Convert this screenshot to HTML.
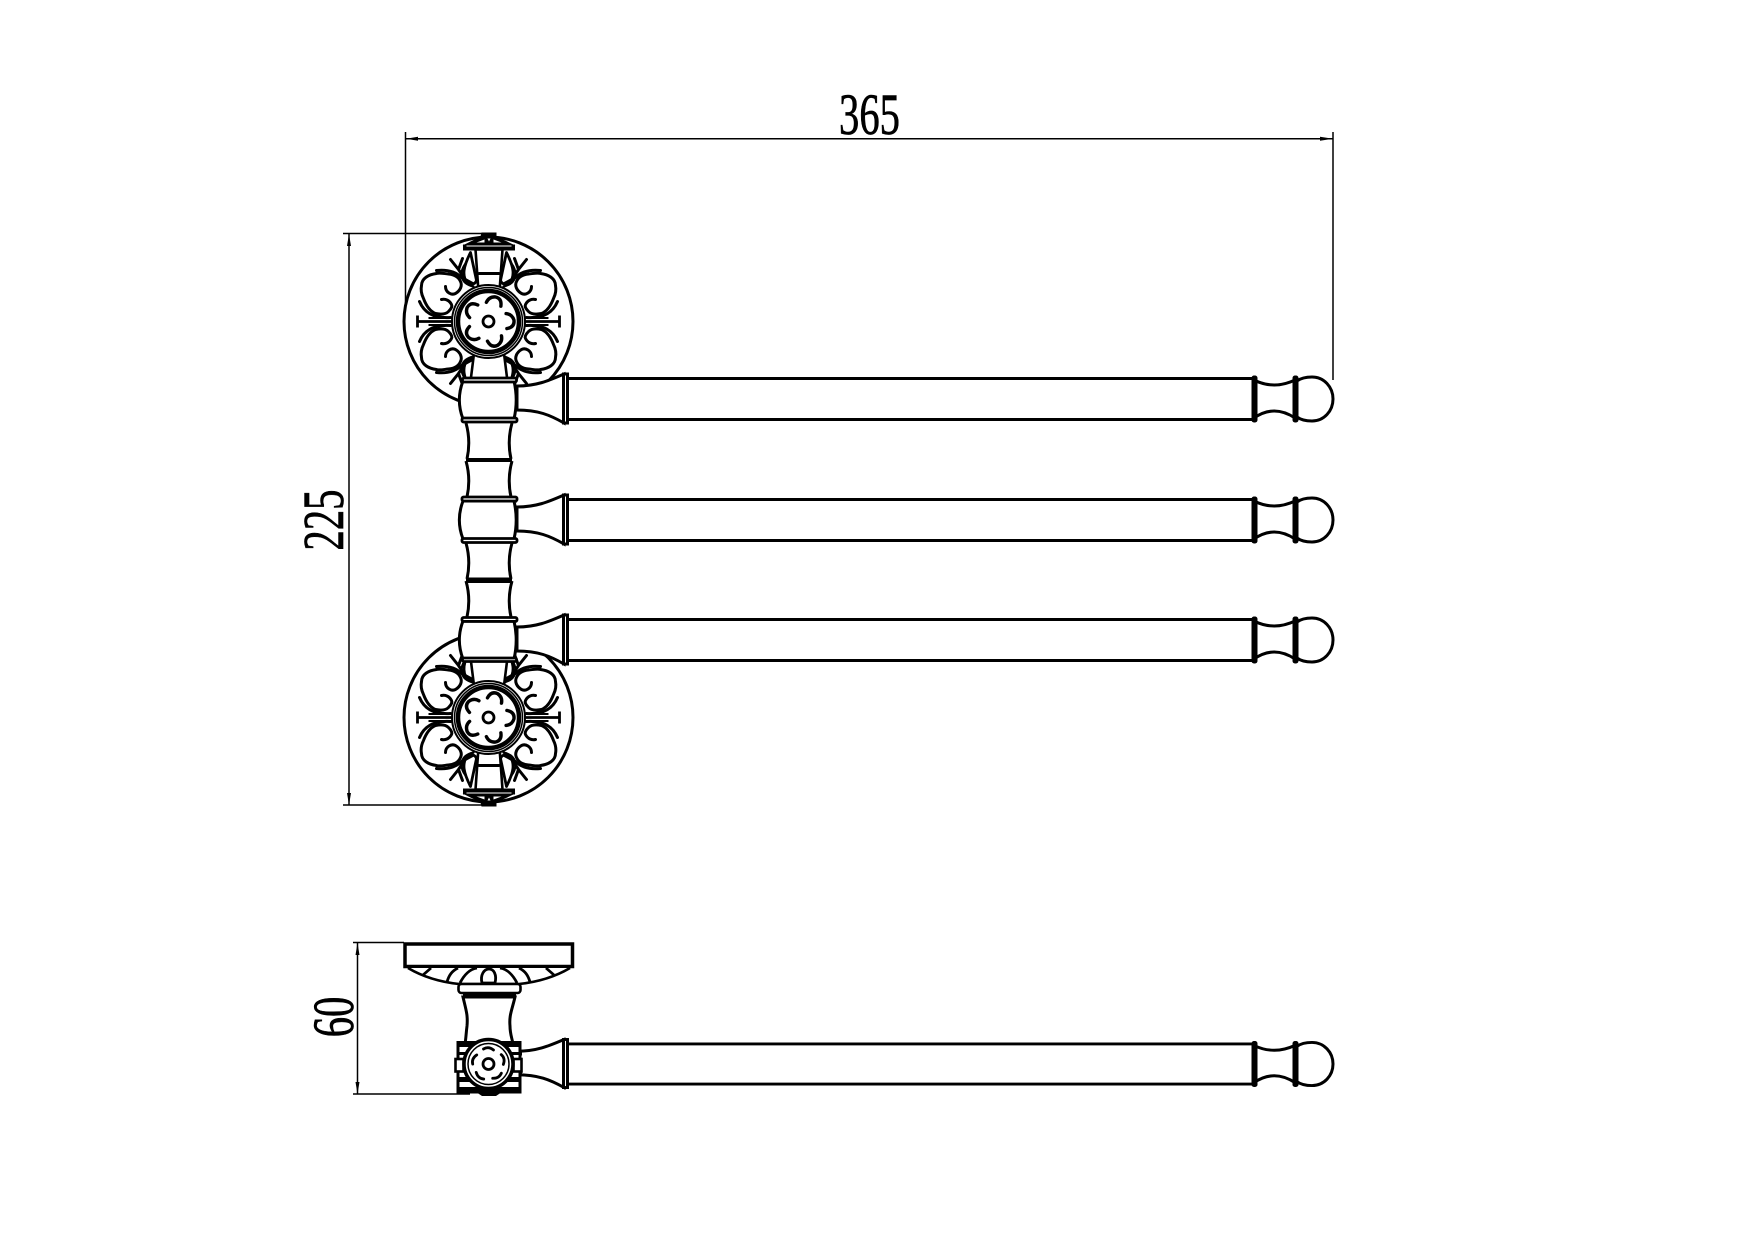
<!DOCTYPE html>
<html>
<head>
<meta charset="utf-8">
<style>
html,body{margin:0;padding:0;background:#fff;width:1754px;height:1240px;overflow:hidden}
svg{display:block}
text{font-family:"Liberation Serif",serif;font-size:58px;fill:#000;text-anchor:middle}
</style>
</head>
<body>
<svg width="1754" height="1240" viewBox="0 0 1754 1240" xmlns="http://www.w3.org/2000/svg" fill="none" stroke="#000" stroke-width="3">
<defs>
  <g id="quarter" stroke-width="3" stroke-linecap="round" stroke-linejoin="round">
    <path d="M-43,-35 C-43,-29 -37,-26 -33,-28 C-28,-31 -26,-36 -28,-40 C-30,-45 -35,-47 -40,-47.500 C-45,-48 -49,-49 -52,-48 C-60,-47 -67,-43 -67,-36 C-68,-31 -67,-27 -65,-23 C-62,-15 -58,-10 -53,-8 C-48,-7 -43,-7 -40,-10 C-37,-13 -36,-15 -37,-17 C-39,-21 -43,-23 -47,-22"/>
    <path d="M-52,-51 C-42,-52 -33,-50 -27,-44 L-16,-38"/>
    <path d="M-69,-20 C-64,-8 -54,-3 -38,-4"/>
    <path d="M-38,-62 L-30,-52 L-26,-63 M-30,-52 L-24,-43"/>
    <path d="M-18,-69 C-25,-55 -27,-46 -21,-38 C-16,-36 -13,-38 -12,-41 L-18,-69 Z" stroke-width="2.800"/>
    <path d="M-23,-58 C-30,-48 -28,-38 -15,-35" stroke-width="2.200"/>
  </g>
  <g id="center">
    <circle r="36.500" stroke-width="2" fill="#fff"/>
    <circle r="34" stroke-width="1.500"/>
    <circle r="30.500" stroke-width="4.500"/>
    <circle r="5.500" stroke-width="2.800"/>
    <g stroke-width="3.400" stroke-linecap="round" stroke-linejoin="round">
      <path id="petal" d="M-7,-18 Q-6,-24 0,-25.500 Q7,-26 8,-18" transform="rotate(15)"/>
      <use href="#petal" transform="rotate(72)"/>
      <use href="#petal" transform="rotate(144)"/>
      <use href="#petal" transform="rotate(216)"/>
      <use href="#petal" transform="rotate(288)"/>
    </g>
  </g>
  <g id="medal">
    <circle r="84.500" stroke-width="3" fill="#fff"/>
    <use href="#quarter"/>
    <use href="#quarter" transform="scale(-1,1)"/>
    <use href="#quarter" transform="scale(1,-1)"/>
    <use href="#quarter" transform="scale(-1,-1)"/>
    <path d="M-70,0 L-37,0 M-71,-6 L-71,6 M70,0 L37,0 M71,-6 L71,6" stroke-width="2.800"/>
    <path d="M-60,-3.500 L-37,-3.500 M-60,3.500 L-37,3.500 M60,-3.500 L37,-3.500 M60,3.500 L37,3.500" stroke-width="2"/>
    <!-- upper neck -->
    <path d="M-13,-72 L-10,-30 L11,-30 L14,-72 Z" fill="#fff" stroke-width="2.600"/>
    <path d="M-10,-48 L11,-48" stroke-width="3"/>
    <!-- cap -->
    <path d="M-26,-76 L-8,-85 L-7,-89 L8,-89 L8,-85 L27,-76 Z" fill="#000" stroke="none"/>
    <path d="M-12,-79 L-4,-82 L-4,-79 Z M13,-79 L5,-82 L5,-79 Z M-1,-83 L2,-83 L0.500,-80 Z" fill="#fff" stroke="none"/>
    <rect x="-25.500" y="-77" width="52" height="6" fill="#000" stroke="none"/>
    <rect x="-22" y="-76" width="45" height="1" fill="#fff" stroke="none"/>
    <!-- lower neck -->
    <path d="M-14,28 L-18,60 L19,60 L15,28 Z" fill="#fff" stroke-width="2.600"/>
    <use href="#center"/>
  </g>
  <g id="arm">
    <path d="M517,-13 C536,-13 548,-18 564,-25 L564,24 C550,16 538,11 517,11 Z" fill="#fff"/>
    <rect x="563.500" y="-25" width="4" height="49" fill="#fff" stroke-width="3"/>
    <path d="M568,-20.500 L1254,-20.500 M568,20.500 L1254,20.500"/>
    <path d="M1297,-18 C1301,-21 1307,-22 1312,-22 C1324,-22 1333,-12 1333,0 C1333,12 1324,22 1312,22 C1307,22 1301,21 1297,18" fill="#fff"/>
    <path d="M1254,-19 Q1274,-9 1295,-19 M1254,19 Q1274,5 1295,19"/>
    <rect x="1251.500" y="-23.500" width="6" height="47" rx="2.500" fill="#000" stroke="none"/>
    <rect x="1292.500" y="-23.500" width="6" height="47" rx="2.500" fill="#000" stroke="none"/>
  </g>
  <g id="barrel">
    <path d="M463,0 C458,13 458,25 463,38 L514,38 C517,25 517,13 514,0 Z" fill="#fff"/>
  </g>
  <g id="neck">
    <path d="M466,0 Q471,18 467,36 L511,36 Q507,18 512,0 Z" fill="#fff" stroke="none"/>
    <path d="M466,0 Q471,18 467,36 M512,0 Q507,18 511,36"/>
  </g>
</defs>

<rect x="0" y="0" width="1754" height="1240" fill="#fff" stroke="none"/>

<!-- dimensions -->
<g stroke-width="1.500">
  <path d="M405.500,132 L405.500,303"/>
  <path d="M1333,132 L1333,380"/>
  <path d="M406,138.800 L1333,138.800"/>
  <path d="M343,233.500 L482,233.500"/>
  <path d="M343,805 L482,805"/>
  <path d="M349,233.500 L349,805"/>
  <path d="M353,942.500 L404,942.500"/>
  <path d="M353,1094 L470,1094"/>
  <path d="M357.500,942.500 L357.500,1094"/>
</g>
<g fill="#000" stroke="none">
  <path d="M406,138.800 L418,136.800 L418,140.800 Z"/>
  <path d="M1333,138.800 L1320,136.800 L1320,140.800 Z"/>
  <path d="M349,234 L347,246 L351,246 Z"/>
  <path d="M349,805 L347,793 L351,793 Z"/>
  <path d="M357.500,943 L355.500,955 L359.500,955 Z"/>
  <path d="M357.500,1094 L355.500,1082 L359.500,1082 Z"/>
</g>
<text stroke="#000" stroke-width="0.700" transform="translate(869.500,134) scale(.70,1)">365</text>
<text stroke="#000" stroke-width="0.700" transform="translate(343,520) rotate(-90) scale(.70,1)">225</text>
<text stroke="#000" stroke-width="0.700" transform="translate(353,1017) rotate(-90) scale(.70,1)">60</text>

<!-- medallions -->
<use href="#medal" transform="translate(488.500,321.500)"/>
<use href="#medal" transform="translate(488.500,717.500) scale(1,-1)"/>

<!-- arms -->
<use href="#arm" transform="translate(0,399)"/>
<use href="#arm" transform="translate(0,520)"/>
<use href="#arm" transform="translate(0,640)"/>

<!-- column -->
<use href="#barrel" transform="translate(0,381)"/>
<use href="#barrel" transform="translate(0,501)"/>
<use href="#barrel" transform="translate(0,621)"/>
<use href="#neck" transform="translate(0,423)"/>
<use href="#neck" transform="translate(0,461)"/>
<use href="#neck" transform="translate(0,543)"/>
<use href="#neck" transform="translate(0,581)"/>
<g fill="#fff" stroke-width="2.800">
  <rect x="462.500" y="378" width="54" height="4" rx="1.500"/>
  <rect x="462" y="418" width="55" height="4" rx="1.500"/>
  <rect x="462" y="497" width="55" height="4" rx="1.500"/>
  <rect x="462" y="538.500" width="55" height="4" rx="1.500"/>
  <rect x="462" y="617.500" width="55" height="4" rx="1.500"/>
  <rect x="462.500" y="658" width="54" height="3.500" rx="1.500"/>
</g>
<rect x="466" y="458" width="46" height="4" fill="#000" stroke="none" rx="1"/>
<rect x="466" y="577.500" width="46" height="5.500" fill="#000" stroke="none" rx="1"/>
<rect x="462" y="500" width="55" height="2.500" fill="#000" stroke="none"/>
<rect x="462" y="620" width="55" height="2.500" fill="#000" stroke="none"/>

<!-- lower view -->
<rect x="405" y="944" width="167.500" height="22.500" fill="#fff" stroke-width="3.500"/>
<path d="M408,968 Q430,981 459,984 L519,984 Q548,981 570,968" fill="#fff" stroke-width="2.600"/>
<g stroke-width="2.800">
  <path d="M482,983 C480,975 484,969 489,969 C494,969 497,975 495,983 Z"/>
  <path d="M460,983 C464,975 470,969 477,968 M517,983 C513,975 507,969 500,968"/>
  <path d="M447,982 C449,975 452,971 458,968 M530,982 C528,975 525,971 519,968"/>
  <path d="M423,975 L431,968 M554,975 L546,968"/>
</g>
<rect x="458.500" y="984" width="62" height="9" rx="3" fill="#fff" stroke-width="2.600"/>
<rect x="463" y="992" width="53" height="5.500" fill="#000" stroke="none"/>
<path d="M463,997 C466,1010 468,1015 467,1026 C466,1034 466,1038 465,1044 L513,1044 C512,1038 510,1034 510,1026 C509,1015 512,1010 515,997 Z" fill="#fff"/>
<use href="#arm" transform="translate(0,1064) scale(1,0.98)"/>
<path d="M517,1054 L522,1054 M517,1073 L522,1073"/>
<!-- hub -->
<rect x="458" y="1042.500" width="62" height="49.500" fill="#fff" stroke-width="3"/>
<g fill="#000" stroke="none">
  <rect x="458" y="1042" width="62" height="5"/>
  <rect x="458" y="1052" width="16" height="3"/>
  <rect x="504" y="1052" width="16" height="3"/>
  <rect x="458" y="1077" width="62" height="5"/>
  <rect x="458" y="1087" width="62" height="5"/>
  <path d="M476,1092 L502,1092 L496,1096 L482,1096 Z"/>
</g>
<rect x="455.500" y="1059" width="8" height="12.500" fill="#fff" stroke-width="2.600"/>
<rect x="513.500" y="1059" width="8" height="12.500" fill="#fff" stroke-width="2.600"/>
<g transform="translate(488.500,1064)">
  <circle r="24.500" fill="#fff" stroke-width="3.500"/>
  <circle r="20.500" stroke-width="1.500"/>
  <circle r="5.500" stroke-width="2.800"/>
  <g stroke-width="2.800" stroke-linecap="round">
    <path id="tick" d="M-5,-15 Q0,-18 5,-14"/>
    <use href="#tick" transform="rotate(72)"/>
    <use href="#tick" transform="rotate(144)"/>
    <use href="#tick" transform="rotate(216)"/>
    <use href="#tick" transform="rotate(288)"/>
  </g>
</g>
</svg>
</body>
</html>
